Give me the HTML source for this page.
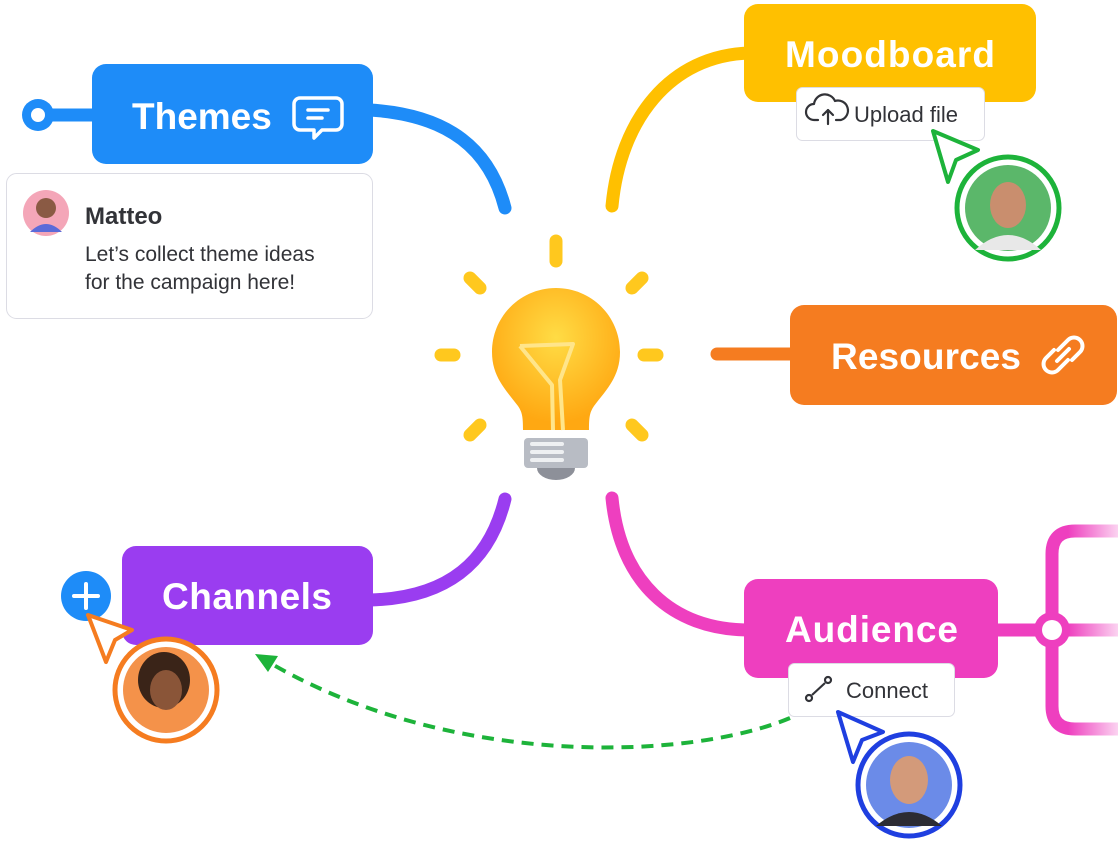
<!DOCTYPE html>
<html><head><meta charset="utf-8"><style>
html,body{margin:0;padding:0;background:#fff;}
svg{display:block;font-family:"Liberation Sans",sans-serif;}
.t{font-weight:bold;fill:#fff;font-size:37px;}
</style></head><body>
<svg width="1120" height="841" viewBox="0 0 1120 841">
<defs>
<radialGradient id="bulb" cx="0.5" cy="0.35" r="0.6"><stop offset="0" stop-color="#ffdc45"/><stop offset="1" stop-color="#ffa812"/></radialGradient>
<linearGradient id="fade" gradientUnits="userSpaceOnUse" x1="1040" y1="0" x2="1120" y2="0"><stop offset="0" stop-color="#ee3fbf"/><stop offset="0.35" stop-color="#ee3fbf"/><stop offset="1" stop-color="#ee3fbf" stop-opacity="0.2"/></linearGradient>
</defs>
<g fill="none" stroke-width="13" stroke-linecap="round">
<path d="M370 110 C450 115 490 150 505 208" stroke="#1e8cf8"/>
<path d="M612 206 C620 120 670 55 750 53" stroke="#ffc000"/>
<path d="M717 354 L795 354" stroke="#f57c20"/>
<path d="M370 600 C450 598 490 560 505 499" stroke="#9a3df0"/>
<path d="M612 498 C620 580 670 630 750 630" stroke="#ee3fbf"/>
<path d="M995 630 L1040 630" stroke="#ee3fbf" stroke-linecap="butt"/>
<path d="M1052 630 L1118 630" stroke="url(#fade)" stroke-linecap="butt"/>
<path d="M1118 531 L1075 531 Q1052 531 1052 554 L1052 706 Q1052 729 1075 729 L1118 729" stroke="url(#fade)" stroke-linecap="butt"/>
<path d="M40 115 L95 115" stroke="#1e8cf8"/>
</g>
<circle cx="1052" cy="630" r="18" fill="#ee3fbf"/><circle cx="1052" cy="630" r="10" fill="#fff"/>
<circle cx="38" cy="115" r="16" fill="#1e8cf8"/><circle cx="38" cy="115" r="7" fill="#fff"/>
<path d="M790 718 C690 760 450 770 265 660" fill="none" stroke="#1db33a" stroke-width="4" stroke-dasharray="12 8"/>
<path d="M255 654 L278 656 L268 672 Z" fill="#1db33a"/>
<rect x="92" y="64" width="281" height="100" rx="14" fill="#1e8cf8"/>
<text x="132" y="129" class="t">Themes</text>
<path d="M300 98 h36 a6 6 0 0 1 6 6 v20 a6 6 0 0 1 -6 6 h-14 l-8 8 v-8 h-14 a6 6 0 0 1 -6 -6 v-20 a6 6 0 0 1 6 -6z" fill="none" stroke="#fff" stroke-width="3.5" stroke-linejoin="round"/>
<path d="M308 110 h20 M308 118 h14" stroke="#fff" stroke-width="3.5" stroke-linecap="round"/>
<rect x="6.5" y="173.5" width="366" height="145" rx="10" fill="#fff" stroke="#dcdce4"/>
<circle cx="46" cy="213" r="23" fill="#f4a6b8"/><circle cx="46" cy="208" r="10" fill="#8a5a44"/><path d="M30 232 q16 -16 32 0" fill="#5b6bd9"/>
<text x="85" y="224" font-size="24" font-weight="bold" fill="#323338">Matteo</text>
<text x="85" y="261" font-size="21" fill="#323338">Let’s collect theme ideas</text>
<text x="85" y="289" font-size="21" fill="#323338">for the campaign here!</text>
<rect x="744" y="4" width="292" height="98" rx="14" fill="#ffc000"/>
<text x="785" y="67" class="t" textLength="210">Moodboard</text>
<rect x="796.5" y="87.5" width="188" height="53" rx="6" fill="#fff" stroke="#dcdce4"/>
<path d="M818 120 h-4 a8 8 0 0 1 0 -16 a11 11 0 0 1 21 -3 a7 7 0 0 1 6 19 h-5 M828 124 v-14 m-5 5 l5 -5 l5 5" fill="none" stroke="#323338" stroke-width="2.2" stroke-linecap="round" stroke-linejoin="round"/>
<text x="854" y="122" font-size="22" fill="#323338">Upload file</text>
<path d="M933 131 L978 150 L956 160 L948 182 Z" fill="#fff" stroke="#1db33a" stroke-width="4" stroke-linejoin="round"/>
<circle cx="1008" cy="208" r="51" fill="#fff" stroke="#1db33a" stroke-width="5"/>
<circle cx="1008" cy="208" r="43" fill="#5bb76a"/>
<ellipse cx="1008" cy="205" rx="18" ry="23" fill="#c98e6e"/><path d="M975 250 q33 -30 66 0" fill="#e8e8e8"/>
<rect x="790" y="305" width="327" height="100" rx="14" fill="#f57c20"/>
<text x="831" y="369" class="t" textLength="190">Resources</text>
<g fill="none" stroke="#fff" stroke-width="4" stroke-linecap="round"><path d="M1058 350 l10 -10 a8 8 0 0 1 12 12 l-8 8"/><path d="M1068 360 l-10 10 a8 8 0 0 1 -12 -12 l8 -8"/><path d="M1057 361 l12 -12"/></g>
<g fill="#ffc81e" stroke="#ffc81e" stroke-width="13" stroke-linecap="round">
<path d="M556 241 v20"/><path d="M470 278 l10 10"/><path d="M642 278 l-10 10"/><path d="M441 355 h13"/><path d="M644 355 h13"/><path d="M470 435 l10 -10"/><path d="M642 435 l-10 -10"/>
</g>
<path d="M556 288 c-35 0 -64 28 -64 64 c0 25 14 38 26 54 c4 6 5 10 5 24 h66 c0 -14 1 -18 5 -24 c12 -16 26 -29 26 -54 c0 -36 -29 -64 -64 -64z" fill="url(#bulb)"/>
<path d="M520 346 L573 344 L560 380 L563 430 M520 346 L552 385 L553 430" fill="none" stroke="#ffe58a" stroke-width="4" stroke-linejoin="round"/>
<rect x="524" y="438" width="64" height="30" rx="4" fill="#b8bcc4"/>
<path d="M532 444h30M532 452h30M532 460h30" stroke="#eef0f2" stroke-width="4" stroke-linecap="round"/>
<path d="M537 468 h38 a19 12 0 0 1 -38 0z" fill="#8d9099"/>
<rect x="122" y="546" width="251" height="99" rx="14" fill="#9a3df0"/>
<text x="162" y="609" class="t" textLength="170">Channels</text>
<circle cx="86" cy="596" r="25" fill="#1e8cf8"/><path d="M86 584v24M74 596h24" stroke="#fff" stroke-width="4" stroke-linecap="round"/>
<path d="M88 615 L132 630 L115 640 L106 662 Z" fill="#fff" stroke="#f57c20" stroke-width="4" stroke-linejoin="round"/>
<circle cx="166" cy="690" r="51" fill="#fff" stroke="#f57c20" stroke-width="5"/>
<circle cx="166" cy="690" r="43" fill="#f4924a"/><ellipse cx="164" cy="680" rx="26" ry="28" fill="#3a2418"/><ellipse cx="166" cy="690" rx="16" ry="20" fill="#8a5538"/>
<rect x="744" y="579" width="254" height="99" rx="14" fill="#ee3fbf"/>
<text x="785" y="642" class="t" textLength="173">Audience</text>
<rect x="788.5" y="663.5" width="166" height="53" rx="6" fill="#fff" stroke="#dcdce4"/>
<g fill="none" stroke="#323338" stroke-width="2.2"><circle cx="809" cy="698" r="3"/><circle cx="828" cy="680" r="3"/><path d="M812 695 l13 -12"/></g>
<text x="846" y="698" font-size="22" fill="#323338">Connect</text>
<path d="M838 712 L883 732 L862 740 L853 762 Z" fill="#fff" stroke="#1f3fe0" stroke-width="4" stroke-linejoin="round"/>
<circle cx="909" cy="785" r="51" fill="#fff" stroke="#1f3fe0" stroke-width="5"/>
<circle cx="909" cy="785" r="43" fill="#6b8be8"/><ellipse cx="909" cy="780" rx="19" ry="24" fill="#d39a7a"/><path d="M876 826 q33 -28 66 0" fill="#2c2c34"/>
</svg>
</body></html>
